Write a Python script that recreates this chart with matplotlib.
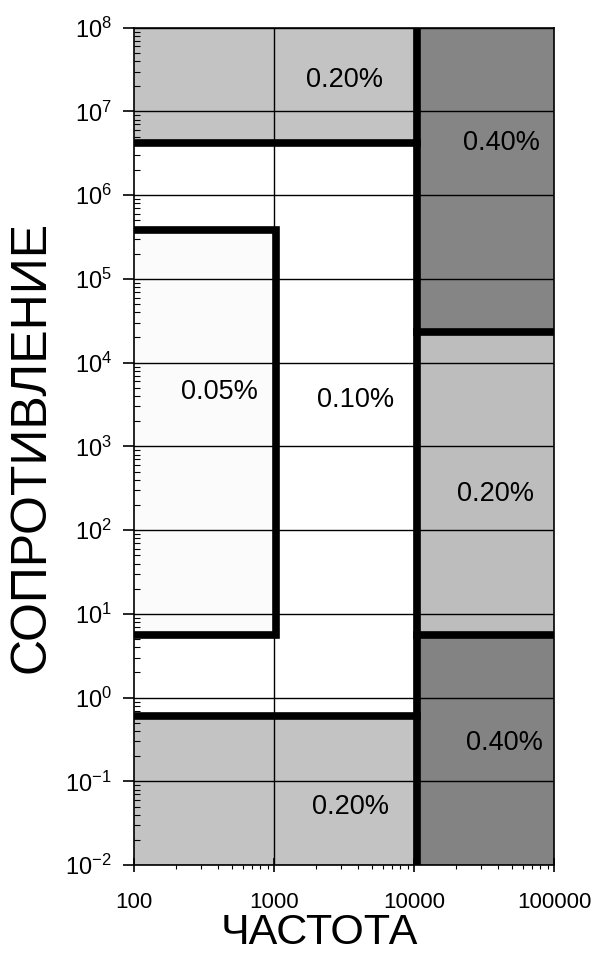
import matplotlib
matplotlib.use("Agg")
import matplotlib.pyplot as plt
from matplotlib.ticker import FixedLocator, LogLocator, NullFormatter

plt.rcParams['font.family'] = ['Liberation Sans', 'DejaVu Sans']
plt.rcParams['mathtext.fontset'] = 'custom'
plt.rcParams['mathtext.rm'] = 'Liberation Sans'
plt.rcParams['mathtext.it'] = 'Liberation Sans'

# regions: (x0, x1, y0, y1, fill colour)
region_x0 = [100, 10500, 10500, 10500, 100, 100]
region_x1 = [10500, 100000, 100000, 100000, 10500, 1040]
region_y0 = [4.2e6, 2.3e4, 5.6, 0.01, 0.01, 5.6]
region_y1 = [1e8, 1e8, 2.3e4, 5.6, 0.6, 3.8e5]
region_col = ['#c3c3c3', '#858585', '#bdbdbd', '#838383', '#c3c3c3', '#fbfbfb']

# thick boundaries (x list, y list)
bound_x = [[100, 10500], [10500, 10500], [10500, 100000], [10500, 100000],
           [100, 10500], [100, 1040, 1040, 100]]
bound_y = [[4.2e6, 4.2e6], [0.01, 1e8], [2.3e4, 2.3e4], [5.6, 5.6],
           [0.6, 0.6], [3.8e5, 3.8e5, 5.6, 5.6]]

# labels
lab_text = ['0.20%', '0.40%', '0.05%', '0.10%', '0.20%', '0.40%', '0.20%']
lab_x = [3200, 4.2e4, 410, 3850, 3.8e4, 4.4e4, 3500]
lab_y = [2.4e7, 4.2e6, 4.5e3, 3.6e3, 270, 0.29, 0.049]

xticks = [100, 1000, 10000, 100000]
yexp = list(range(-2, 9))

fig = plt.figure(figsize=(5.97, 9.56), dpi=100)
ax = fig.add_axes([0.2245, 0.095, 0.7035, 0.876])
ax.set_xscale('log')
ax.set_yscale('log')
ax.set_xlim(100, 100000)
ax.set_ylim(0.01, 1e8)

for x0, x1, y0, y1, c in zip(region_x0, region_x1, region_y0, region_y1, region_col):
    ax.fill_between([x0, x1], y0, y1, color=c, lw=0, zorder=1)

for e in yexp:
    ax.axhline(10.0 ** e, color='black', lw=1.0, zorder=2)
for xv in xticks[1:3]:
    ax.axvline(xv, color='black', lw=1.0, zorder=2)

for bx, by in zip(bound_x, bound_y):
    ax.plot(bx, by, color='black', lw=5.5, solid_capstyle='projecting',
            solid_joinstyle='miter', zorder=3)

for t, x, y in zip(lab_text, lab_x, lab_y):
    ax.text(x, y, t, ha='center', va='center', fontsize=19.5, zorder=4)

ax.xaxis.set_major_locator(FixedLocator(xticks))
ax.set_xticklabels([str(v) for v in xticks])
ax.xaxis.set_minor_locator(LogLocator(base=10, subs=range(2, 10)))
ax.xaxis.set_minor_formatter(NullFormatter())
ax.yaxis.set_major_locator(FixedLocator([10.0 ** e for e in yexp]))
ax.set_yticklabels([r'$10^{%d}$' % e for e in yexp])
ax.yaxis.set_minor_locator(LogLocator(base=10, subs=range(2, 10), numticks=20))
ax.yaxis.set_minor_formatter(NullFormatter())

ax.tick_params(axis='x', which='major', direction='inout', length=10, width=1.2,
               labelsize=16, pad=14)
ax.tick_params(axis='x', which='minor', direction='out', length=3, width=0.8)
ax.tick_params(axis='y', which='major', direction='out', length=8, width=1.2,
               labelsize=17, pad=8)
ax.tick_params(axis='y', which='minor', direction='in', length=4, width=0.8)

for s in ax.spines.values():
    s.set_linewidth(1.2)
    s.set_zorder(5)

ax.set_xlabel('ЧАСТОТА', fontsize=31)
ax.xaxis.set_label_coords(0.44, -0.057)
ax.set_ylabel('СОПРОТИВЛЕНИЕ', fontsize=36)
ax.yaxis.set_label_coords(-0.19, 0.5)

fig.savefig('out.png', dpi=100)
